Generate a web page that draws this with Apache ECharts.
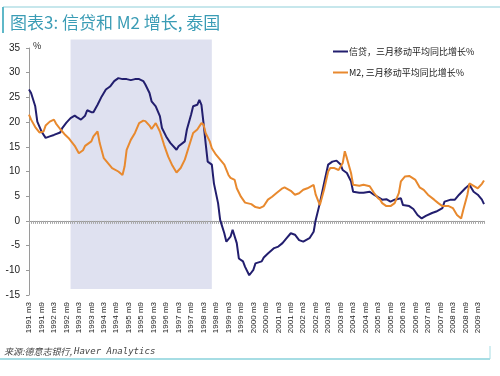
<!DOCTYPE html>
<html>
<head>
<meta charset="utf-8">
<script src="https://cdn.jsdelivr.net/npm/echarts@6/dist/echarts.min.js"></script>
<style>
  html, body { margin: 0; padding: 0; background: #fff; }
  #chart { width: 500px; height: 376px; }
</style>
</head>
<body>
<div id="chart"></div>
<script>
// monthly categories, 1991 m3 .. 2009 m6
const categories = [];
for (let i = 0; i < 220; i++) {
  const y = 1991 + Math.floor((i + 2) / 12);
  const mo = (i + 2) % 12 + 1;
  categories.push(y + ' m' + mo);
}

// credit: month offset from 1991 m3, value in %
const creditMonth = [0,1,3,4,6,8,10,12,15,16,18,20,22,23,25,27,28,30,31,33,35,37,39,41,43,45,47,49,51,53,55,56,58,59,61,63,64,66,68,71,72,75,76,78,79,81,82,83,84,85,86,88,89,91,92,94,95,97,98,100,101,103,104,106,108,109,112,113,115,118,120,122,124,126,128,130,132,135,137,138,140,142,144,146,148,150,151,153,155,156,159,161,164,166,168,170,172,174,176,179,180,183,185,187,189,191,194,196,199,200,203,205,207,210,212,214,216,218,219];
const creditValue = [26.6,25.9,23.2,20.1,18.1,16.8,17.1,17.4,17.9,18.8,19.9,20.8,21.3,21.0,20.5,21.3,22.4,22.0,22.0,23.5,25.2,26.6,27.2,28.3,28.9,28.7,28.7,28.5,28.7,28.7,28.3,27.6,25.9,24.2,23.2,21.2,18.8,17.1,15.8,14.4,15.1,16.1,18.5,21.5,23.2,23.5,24.5,23.5,19.8,15.8,12.0,11.4,7.6,3.6,0.2,-2.5,-4.2,-3.2,-1.8,-4.5,-7.6,-8.2,-9.3,-11.0,-9.9,-8.6,-8.2,-7.4,-6.6,-5.5,-5.2,-4.5,-3.5,-2.5,-2.8,-3.9,-4.2,-3.5,-2.2,0.2,3.6,7.6,11.4,12.0,12.2,11.4,10.3,9.7,8.0,5.9,5.7,5.7,5.9,5.3,4.8,4.3,4.4,3.9,4.3,4.6,3.2,3.0,2.4,1.2,0.5,1.0,1.6,1.9,2.6,3.9,4.3,4.3,5.3,6.6,7.3,5.9,5.3,4.3,3.4];

// M2
const m2Month = [0,1,3,5,7,8,10,12,13,15,17,19,22,24,26,27,30,31,33,34,36,38,40,43,45,46,47,49,51,53,55,56,58,59,61,63,65,67,69,71,73,75,77,79,81,83,84,85,87,88,90,92,94,96,97,99,100,102,104,105,107,109,111,113,115,117,119,122,123,126,128,130,132,134,137,138,140,142,144,145,147,149,151,152,153,155,156,159,161,164,166,168,169,170,172,174,176,178,179,181,183,186,188,190,192,195,197,199,202,204,206,208,209,211,212,214,216,218,219];
const m2Value = [21.5,20.5,19.0,17.9,18.1,19.3,20.1,20.5,19.7,18.6,17.6,16.8,15.2,13.7,14.3,15.2,16.1,17.1,18.1,15.8,12.7,11.7,10.7,10.0,9.3,11.0,14.4,16.4,17.8,19.8,20.3,20.2,19.3,18.6,19.8,18.1,15.4,13.0,11.2,9.8,10.7,12.4,15.1,17.8,18.5,19.8,19.5,17.8,16.1,14.7,13.4,12.4,11.4,9.3,8.7,8.3,6.6,4.9,3.7,3.6,3.4,2.8,2.6,3.0,4.3,4.9,5.6,6.6,6.8,6.1,5.3,5.6,6.3,6.6,7.3,5.3,3.2,6.3,10.0,10.7,10.7,10.3,11.7,14.1,12.7,9.7,7.3,7.1,7.3,7.0,5.7,4.6,4.3,3.6,3.0,3.0,3.6,5.6,8.0,9.0,9.1,8.3,6.8,6.3,5.3,4.3,3.6,3.0,3.0,2.6,1.2,0.5,2.2,5.3,7.6,7.1,6.6,7.5,8.2];

// shaded period and its vertical extent
const shadeFrom = '1992 m11';
const shadeTo = '1998 m7';
const shadeTop = 36.7;
const shadeBottom = -13.8;

const creditName = '信贷，三月移动平均同比增长%';
const m2Name = 'M2, 三月移动平均同比增长%';

const chart = echarts.init(document.getElementById('chart'));
const font = '"Noto Sans CJK SC", "Liberation Sans", sans-serif';

const option = {
  animation: false,
  textStyle: { fontFamily: font },
  title: {
    text: '图表3: 信贷和 M2 增长, 泰国',
    left: 5,
    top: 9,
    textStyle: { color: '#3a9cb5', fontSize: 17, fontWeight: 'normal', fontFamily: font }
  },
  legend: {
    orient: 'vertical',
    left: 328,
    top: 42,
    itemGap: 12,
    itemWidth: 15,
    itemHeight: 2,
    icon: 'rect',
    textStyle: { fontSize: 9, color: '#222', padding: [0, 0, 0, -4] },
    data: [creditName, m2Name]
  },
  grid: { left: 29, right: 16, top: 48, bottom: 81 },
  xAxis: [
    {
      type: 'category',
      data: categories,
      boundaryGap: false,
      position: 'bottom',
      axisLine: { show: false, onZero: false },
      axisTick: { show: false },
      axisLabel: {
        interval: 5,
        rotate: 90,
        fontSize: 8,
        color: '#222',
        margin: 7,
        fontFamily: '"Liberation Sans", Arial, sans-serif'
      }
    },
    {
      type: 'category',
      data: categories,
      boundaryGap: false,
      position: 'bottom',
      axisLine: { show: true, onZero: true, lineStyle: { color: '#9a9a9a', width: 1 } },
      axisTick: { show: true, interval: 0, length: 3, lineStyle: { color: '#a8a8a8' } },
      axisLabel: { show: false }
    }
  ],
  yAxis: {
    type: 'value',
    min: -15,
    max: 35,
    interval: 5,
    axisLine: { show: true, lineStyle: { color: '#9a9a9a' } },
    axisTick: { show: true, length: 3, lineStyle: { color: '#9a9a9a' } },
    splitLine: { show: false },
    axisLabel: { fontSize: 10, color: '#222', margin: 9, fontFamily: '"Liberation Sans", Arial, sans-serif' }
  },
  series: [
    {
      name: creditName,
      type: 'line',
      xAxisIndex: 0,
      showSymbol: false,
      z: 3,
      lineStyle: { color: '#221e6e', width: 2 },
      itemStyle: { color: '#221e6e' },
      data: creditMonth.map((m, i) => [categories[m], creditValue[i]])
    },
    {
      name: m2Name,
      type: 'line',
      xAxisIndex: 0,
      showSymbol: false,
      z: 4,
      lineStyle: { color: '#e8892e', width: 2 },
      itemStyle: { color: '#e8892e' },
      data: m2Month.map((m, i) => [categories[m], m2Value[i]])
    }
  ],
  graphic: [
    { type: 'line', shape: { x1: 3, y1: 7, x2: 500, y2: 7 }, style: { stroke: '#8fcfd9', lineWidth: 1 } },
    { type: 'line', shape: { x1: 3, y1: 7, x2: 3, y2: 33 }, style: { stroke: '#5fb8c8', lineWidth: 2 } },
    { type: 'line', shape: { x1: 0, y1: 359, x2: 490, y2: 359 }, style: { stroke: '#a6dde4', lineWidth: 2 } },
    { type: 'line', shape: { x1: 490, y1: 346, x2: 490, y2: 359 }, style: { stroke: '#a6dde4', lineWidth: 1 } },
    { type: 'text', left: 33, top: 41, style: { text: '%', fontSize: 9, fill: '#222', fontFamily: font } },
    {
      type: 'text', left: 4, top: 347,
      style: {
        text: '{c|来源:德意志银行, }{l|Haver Analytics}',
        rich: {
          c: { fontSize: 9, fontStyle: 'italic', fill: '#444', fontFamily: font },
          l: { fontSize: 9, fontStyle: 'italic', fill: '#444', fontFamily: '"DejaVu Sans Mono", monospace' }
        }
      }
    }
  ]
};

chart.setOption(option);

// shaded band placed through the axes' own scales
const x0 = chart.convertToPixel({ xAxisIndex: 0 }, shadeFrom);
const x1 = chart.convertToPixel({ xAxisIndex: 0 }, shadeTo);
const y0 = chart.convertToPixel({ yAxisIndex: 0 }, shadeTop);
const y1 = chart.convertToPixel({ yAxisIndex: 0 }, shadeBottom);
chart.setOption({
  graphic: [{
    id: 'shade',
    type: 'rect',
    z: -1,
    shape: { x: x0, y: y0, width: x1 - x0, height: y1 - y0 },
    style: { fill: '#dfe1f0' }
  }]
});
</script>
</body>
</html>
